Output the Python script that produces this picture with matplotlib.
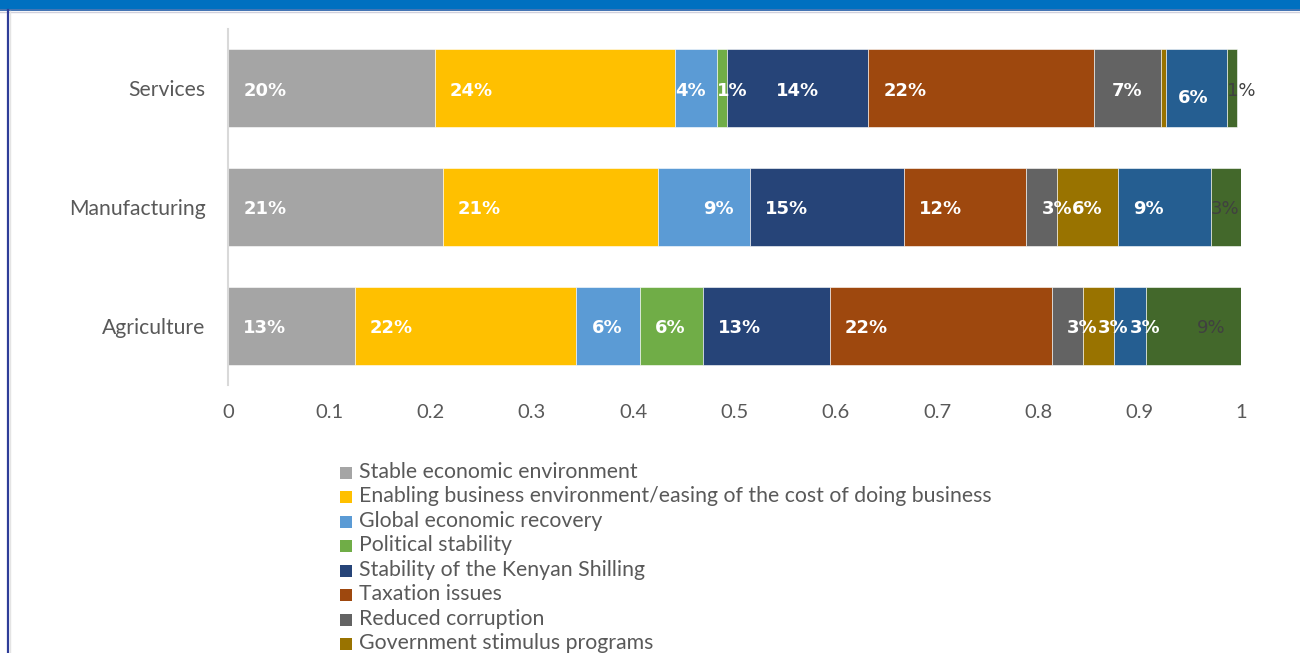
import matplotlib.pyplot as plt
import numpy as np
from matplotlib.patches import Rectangle
from matplotlib.lines import Line2D

# Sector shares per driver (fractions of respondents)
sectors = ["Services", "Manufacturing", "Agriculture"]
drivers = [
    "Stable economic environment",
    "Enabling business environment/easing of the cost of doing business",
    "Global economic recovery",
    "Political stability",
    "Stability of the Kenyan Shilling",
    "Taxation issues",
    "Reduced corruption",
    "Government stimulus programs",
    "Improved access to credit",
    "Other",
]
services = [0.204, 0.237, 0.042, 0.010, 0.139, 0.223, 0.066, 0.005, 0.060, 0.010]
manufacturing = [0.212, 0.212, 0.091, 0.0, 0.152, 0.121, 0.030, 0.061, 0.091, 0.030]
agriculture = [0.125, 0.219, 0.0625, 0.0625, 0.125, 0.219, 0.031, 0.031, 0.031, 0.094]
colors = ["#A5A5A5", "#FFC000", "#5B9BD5", "#70AD47", "#264478",
          "#9E480E", "#636363", "#997300", "#255E91", "#43682B"]
xticks = [0, 0.1, 0.2, 0.3, 0.4, 0.5, 0.6, 0.7, 0.8, 0.9, 1]

W, H = 1300, 653
fig = plt.figure(figsize=(W / 100, H / 100), dpi=100)
txt = "#595959"
font = "Lato"

# header band and frame
fig.add_artist(Rectangle((0, 1 - 9 / H), 1, 9 / H, transform=fig.transFigure,
                         color="#0070C0", lw=0))
fig.add_artist(Line2D([0, 1], [1 - 10 / H] * 2, transform=fig.transFigure,
                      color="#1F5AA6", lw=1.2))
fig.add_artist(Line2D([0, 1], [1 - 11.5 / H] * 2, transform=fig.transFigure,
                      color="#D0D0DC", lw=1))
fig.add_artist(Line2D([7.5 / W] * 2, [0, 1 - 10 / H], transform=fig.transFigure,
                      color="#2E3D98", lw=1.6))
fig.add_artist(Line2D([9.5 / W] * 2, [0, 1 - 11 / H], transform=fig.transFigure,
                      color="#E4E4E4", lw=1))

ax = fig.add_axes([228 / W, 1 - 385 / H, (1241 - 228) / W, (385 - 29) / H])
data = np.array([services, manufacturing, agriculture])
ypos = np.arange(len(sectors))
left = np.zeros(len(sectors))
for j, name in enumerate(drivers):
    ax.barh(ypos, data[:, j], left=left, height=0.66, color=colors[j],
            edgecolor="white", linewidth=0.4, label=name)
    left += data[:, j]

# label placement: default is just inside the start of each segment
centered = {(0, 4), (0, 6)}
shift = {(0, 2): (-0.015, 0), (0, 3): (-0.015, 0), (1, 2): (0.03, 0),
         (0, 8): (-0.003, 0.06), (2, 9): (0.05, 0)}
for i in range(len(sectors)):
    start = 0.0
    for j in range(len(drivers)):
        v = data[i, j]
        if v >= 0.0095:
            lab = f"{int(v * 100 + 0.5)}%"
            last = j == len(drivers) - 1
            dx, dy = shift.get((i, j), (0, 0))
            if (i, j) in centered:
                x, ha = start + v / 2, "center"
            elif last:
                x, ha = start + dx, "left"
            else:
                x, ha = start + 0.015 + dx, "left"
            ax.text(x, i + 0.02 + dy, lab, ha=ha, va="center",
                    color="#404040" if last else "white",
                    fontweight="normal" if last else "bold",
                    fontsize=13, family="DejaVu Sans")
        start += v

ax.set_xlim(0, 1)
ax.set_ylim(2.5, -0.5)
ax.set_xticks(xticks)
ax.set_xticklabels([f"{t:g}" for t in xticks], family=font, fontsize=14.5, color=txt)
ax.set_yticks(ypos)
ax.set_yticklabels(sectors, family=font, fontsize=15.2, color=txt)
ax.tick_params(length=0)
ax.tick_params(axis="x", pad=14)
ax.tick_params(axis="y", pad=16)
for s in ["top", "right", "bottom"]:
    ax.spines[s].set_visible(False)
ax.spines["left"].set_color("#D9D9D9")
ax.spines["left"].set_linewidth(1.5)

# legend rows below the plot
y0, step = 472, 24.45
for j, name in enumerate(drivers):
    yc = y0 + j * step
    fig.add_artist(Rectangle((340 / W, 1 - (yc + 7) / H), 12 / W, 12 / H,
                             transform=fig.transFigure, color=colors[j], lw=0))
    fig.text(359 / W, 1 - yc / H, name, ha="left", va="center", family=font,
             fontsize=15.3, color=txt)

fig.savefig("out.png", dpi=100)
